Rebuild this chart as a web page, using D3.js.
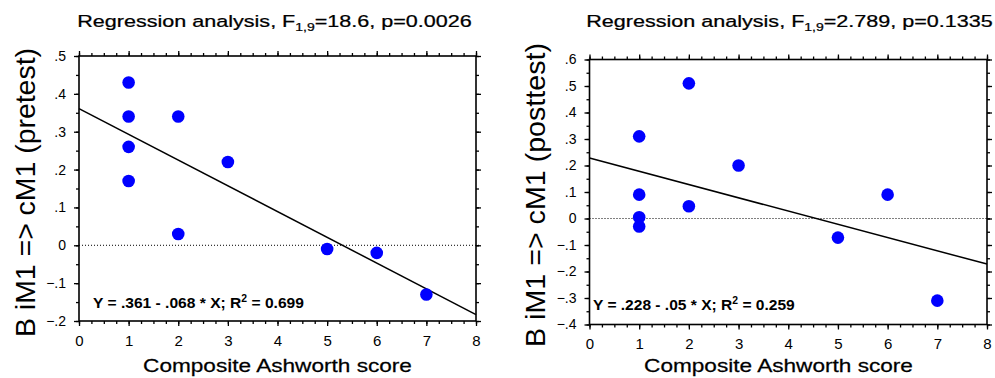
<!DOCTYPE html>
<meta charset="utf-8">
<script src="https://d3js.org/d3.v7.min.js"></script>
<style>
  body { margin: 0; background: #fff; }
  svg text { font-family: "Liberation Sans", Arial, sans-serif; fill: #000; }
  .tick line { stroke: #000; stroke-width: 1.3; }
  .tick text { fill: #000; }
  .domain { display: none; }
  .heavy { stroke: #000; stroke-width: 0.25px; }
</style>
<svg id="chart" width="995" height="378"></svg>
<script>
  // data
  var xTicks = [0, 1, 2, 3, 4, 5, 6, 7, 8];

  var preX = [1, 1, 1, 1, 2, 2, 3, 5, 6, 7];
  var preY = [0.43, 0.34, 0.26, 0.17, 0.34, 0.03, 0.22, -0.01, -0.02, -0.13];
  var preFit = [0.361, -0.068];
  var preYTicks = [-0.2, -0.1, 0, 0.1, 0.2, 0.3, 0.4, 0.5];

  var postX = [1, 1, 1, 1, 2, 2, 3, 5, 6, 7];
  var postY = [0.31, 0.09, 0.005, -0.03, 0.51, 0.046, 0.20, -0.072, 0.09, -0.31];
  var postFit = [0.228, -0.05];
  var postYTicks = [-0.4, -0.3, -0.2, -0.1, 0, 0.1, 0.2, 0.3, 0.4, 0.5, 0.6];

  var svg = d3.select("svg");

  function yFmt(d) {
    if (d === 0) return "0";
    return d3.format(".1f")(d).replace("0.", ".");
  }

  // stretch a text horizontally so it spans the given width
  function fitWidth(t, target, ax) {
    var w = t.node().getBBox().width;
    var s = target / w;
    t.attr("transform", "translate(" + ax + ",0) scale(" + s + ",1) translate(" + (-ax) + ",0)");
  }

  function panel(p) {
    var x = d3.scaleLinear().domain([0, 8]).range([p.left, p.right]);
    var y = d3.scaleLinear().domain(p.yDomain).range([p.bottom, p.top]);
    var g = svg.append("g");

    // minor ticks
    var xMinor = d3.range(0, 8.001, 0.25);
    var yMinor = d3.range(p.yDomain[0], p.yDomain[1] + 0.001, 0.05);
    g.append("g").attr("transform", "translate(0," + p.bottom + ")")
      .call(d3.axisBottom(x).tickValues(xMinor).tickFormat("").tickSize(3));
    g.append("g").attr("transform", "translate(0," + p.top + ")")
      .call(d3.axisTop(x).tickValues(xMinor).tickFormat("").tickSize(3));
    g.append("g").attr("transform", "translate(" + p.left + ",0)")
      .call(d3.axisLeft(y).tickValues(yMinor).tickFormat("").tickSize(3));
    g.append("g").attr("transform", "translate(" + p.right + ",0)")
      .call(d3.axisRight(y).tickValues(yMinor).tickFormat("").tickSize(3));

    // major ticks
    var xb = g.append("g").attr("transform", "translate(0," + p.bottom + ")")
      .call(d3.axisBottom(x).tickValues(xTicks).tickFormat(d3.format("d")).tickSize(5).tickPadding(9));
    xb.selectAll("text").style("font-size", "15px");
    g.append("g").attr("transform", "translate(0," + p.top + ")")
      .call(d3.axisTop(x).tickValues(xTicks).tickFormat("").tickSize(5));
    var yl = g.append("g").attr("transform", "translate(" + p.left + ",0)")
      .call(d3.axisLeft(y).tickValues(p.yTicks).tickFormat(yFmt).tickSize(5).tickPadding(8));
    yl.selectAll("text").style("font-size", "14px");
    g.append("g").attr("transform", "translate(" + p.right + ",0)")
      .call(d3.axisRight(y).tickValues(p.yTicks).tickFormat("").tickSize(5));
    g.selectAll(".tick line").attr("stroke", "#000");

    // frame
    g.append("rect")
      .attr("x", p.left).attr("y", p.top)
      .attr("width", p.right - p.left).attr("height", p.bottom - p.top)
      .attr("fill", "none").attr("stroke", "#000").attr("stroke-width", 1.6);

    // zero reference
    g.append("line")
      .attr("x1", x(0)).attr("x2", x(8) + 4)
      .attr("y1", y(0)).attr("y2", y(0))
      .attr("stroke", "#000").attr("stroke-width", 1)
      .attr("stroke-dasharray", "1,2");

    // regression line
    g.append("line")
      .attr("x1", x(0)).attr("y1", y(p.fit[0]))
      .attr("x2", x(8)).attr("y2", y(p.fit[0] + p.fit[1] * 8))
      .attr("stroke", "#000").attr("stroke-width", 1.5);

    // points
    g.selectAll("circle.pt")
      .data(p.xs.map(function (d, i) { return [d, p.ys[i]]; }))
      .enter().append("circle")
      .attr("class", "pt")
      .attr("cx", function (d) { return x(d[0]); })
      .attr("cy", function (d) { return y(d[1]); })
      .attr("r", 6.3)
      .attr("fill", "#0000ff");

    // title
    var t = g.append("text")
      .attr("class", "heavy")
      .attr("x", p.titleX).attr("y", 27)
      .attr("text-anchor", "middle")
      .style("font-size", "17px");
    t.append("tspan").text("Regression analysis, F");
    t.append("tspan").attr("dy", 4).style("font-size", "11px").text("1,9");
    t.append("tspan").attr("dy", -4).text(p.stat);
    fitWidth(t, p.titleW, p.titleX);

    // equation
    var e = g.append("text")
      .attr("x", p.eqX).attr("y", p.eqY)
      .style("font-size", "15px").style("font-weight", "bold");
    e.append("tspan").text(p.eq + "; R");
    e.append("tspan").attr("dy", -6).style("font-size", "10px").text("2");
    e.append("tspan").attr("dy", 6).text(" = " + p.r2);
    fitWidth(e, p.eqW, p.eqX);

    // x label
    var xl = g.append("text")
      .attr("class", "heavy")
      .attr("x", p.xLabX).attr("y", 372)
      .attr("text-anchor", "middle")
      .style("font-size", "19px")
      .text("Composite Ashworth score");
    fitWidth(xl, 269, p.xLabX);

    // y label
    g.append("text")
      .attr("transform", "translate(" + p.yLabX + "," + p.yLabY + ") rotate(-90)")
      .attr("text-anchor", "middle")
      .style("font-size", "28px")
      .attr("textLength", p.yLabLen)
      .attr("lengthAdjust", "spacingAndGlyphs")
      .text(p.yLab);
  }

  panel({
    left: 79, right: 476, top: 56, bottom: 321,
    yDomain: [-0.2, 0.5], yTicks: preYTicks,
    xs: preX, ys: preY, fit: preFit,
    titleX: 274.5, titleW: 395, stat: "=18.6, p=0.0026",
    eqX: 93, eqY: 308, eqW: 211, eq: "Y = .361 - .068 * X", r2: "0.699",
    xLabX: 277.5,
    yLabX: 35, yLabY: 192.5, yLabLen: 289, yLab: "B iM1 => cM1 (pretest)"
  });

  panel({
    left: 589.5, right: 987, top: 59.5, bottom: 324.5,
    yDomain: [-0.4, 0.6], yTicks: postYTicks,
    xs: postX, ys: postY, fit: postFit,
    titleX: 789.5, titleW: 407, stat: "=2.789, p=0.1335",
    eqX: 593, eqY: 310, eqW: 202, eq: "Y = .228 - .05 * X", r2: "0.259",
    xLabX: 778.5,
    yLabX: 545, yLabY: 195, yLabLen: 304, yLab: "B iM1 => cM1 (posttest)"
  });
</script>
